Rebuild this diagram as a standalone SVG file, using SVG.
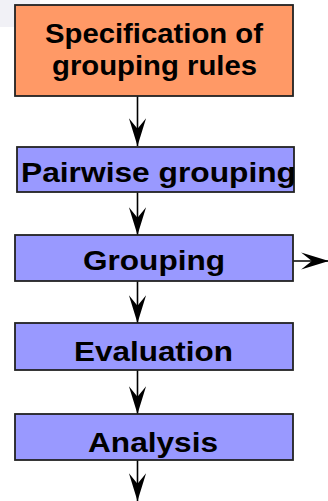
<svg xmlns="http://www.w3.org/2000/svg" width="328" height="501" viewBox="0 0 328 501">
  <defs>
    <marker id="head" markerUnits="userSpaceOnUse" markerWidth="30" markerHeight="20" viewBox="-26 -9 28 18" refX="0" refY="0" orient="auto" overflow="visible">
      <path d="M0,0 L-26,-8 L-16,0 L-26,8 Z" fill="#000"/>
    </marker>
    <style>
      .box { stroke: #222; stroke-width: 1.8; }
      .rule { fill: #ff9966; }
      .step { fill: #9999ff; }
      .lbl { font-family: "Liberation Sans", Arial, sans-serif; font-weight: bold; font-size: 28px; fill: #000; }
      .link { stroke: #000; stroke-width: 1.6; fill: none; marker-end: url(#head); }
    </style>
  </defs>

  <rect width="328" height="501" fill="#fff"/>
  <!-- faint band at the top-left corner -->
  <rect x="0" y="0" width="40" height="27" fill="#f1f1f6"/>

  <g id="connectors">
    <line class="link" x1="137.5" y1="96" x2="137.5" y2="146"/>
    <line class="link" x1="137.5" y1="192" x2="137.5" y2="235"/>
    <line class="link" x1="137.5" y1="281" x2="137.5" y2="323"/>
    <line class="link" x1="137.5" y1="370" x2="137.5" y2="414"/>
    <line class="link" x1="137.5" y1="460" x2="137.5" y2="501"/>
    <line class="link" x1="293" y1="261" x2="329" y2="261"/>
  </g>

  <g id="spec">
    <rect class="box rule" x="15" y="5" width="278" height="91"/>
    <text class="lbl" x="45" y="43" textLength="218" lengthAdjust="spacingAndGlyphs">Specification of</text>
    <text class="lbl" x="52" y="75" textLength="205" lengthAdjust="spacingAndGlyphs">grouping rules</text>
  </g>

  <g id="pairwise">
    <rect class="box step" x="17" y="147" width="277" height="45"/>
    <text class="lbl" x="21" y="182" font-size="30" textLength="275" lengthAdjust="spacingAndGlyphs">Pairwise grouping</text>
  </g>

  <g id="grouping">
    <rect class="box step" x="15" y="235" width="278" height="46"/>
    <text class="lbl" x="83" y="269.5" textLength="142" lengthAdjust="spacingAndGlyphs">Grouping</text>
  </g>

  <g id="evaluation">
    <rect class="box step" x="15" y="323" width="278" height="47"/>
    <text class="lbl" x="74" y="361" font-size="29" textLength="159" lengthAdjust="spacingAndGlyphs">Evaluation</text>
  </g>

  <g id="analysis">
    <rect class="box step" x="15" y="414" width="278" height="46"/>
    <text class="lbl" x="88" y="452" textLength="130" lengthAdjust="spacingAndGlyphs">Analysis</text>
  </g>
</svg>
